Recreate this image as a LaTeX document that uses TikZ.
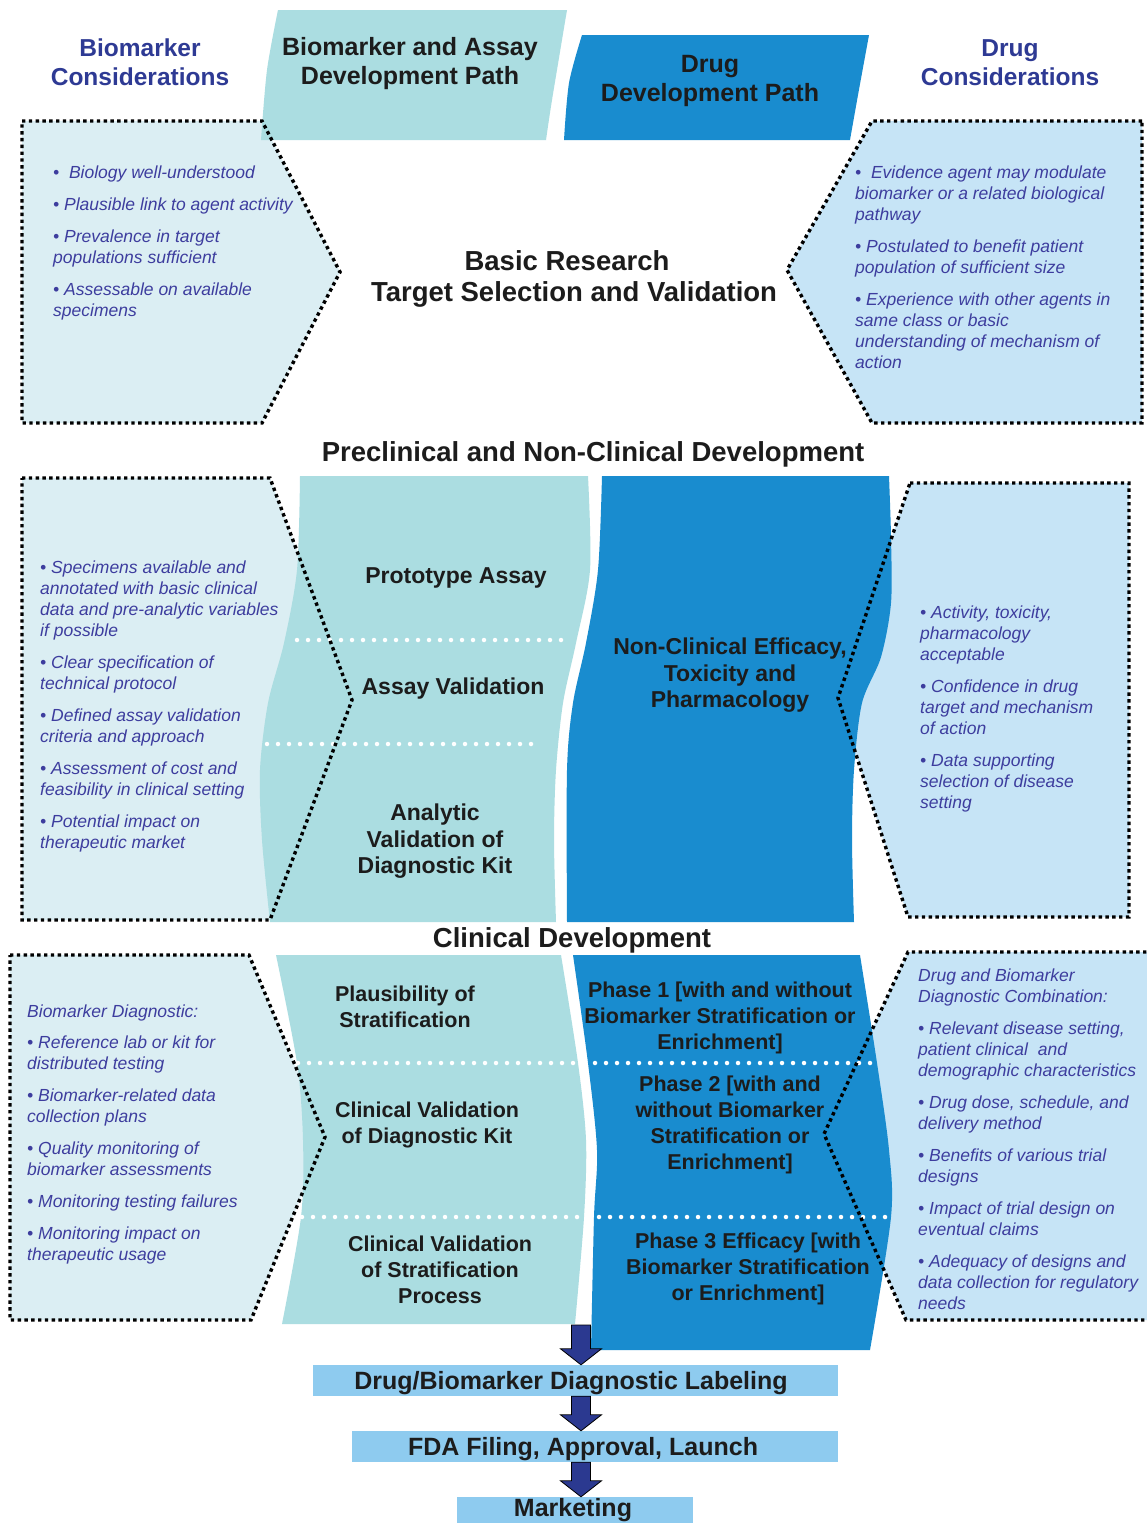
\documentclass[tikz,border=0pt]{standalone}
\usepackage{fontspec}
\setmainfont{Liberation Sans}
\usetikzlibrary{calc}
\definecolor{colTeal}{HTML}{ABDDE1}
\definecolor{colBlue}{HTML}{198CCF}
\definecolor{fillL}{HTML}{DBEEF3}
\definecolor{fillR}{HTML}{C6E4F6}
\definecolor{fillLab}{HTML}{8ECBEF}
\definecolor{bulCol}{HTML}{3D3D9E}
\definecolor{headCol}{HTML}{2E3A94}
\definecolor{arrCol}{HTML}{2B3990}
\definecolor{darkTxt}{HTML}{1C1C1C}
\begin{document}
\begin{tikzpicture}[x=1pt,y=-1pt,
  bullets/.style={font=\fontsize{17.5}{21}\selectfont\itshape, text=bulCol, anchor=north west, align=left, inner sep=0pt, yshift=-2pt},
  colA/.style={font=\fontsize{23}{26.5}\selectfont\bfseries, text=darkTxt, align=center, inner sep=0pt, yshift=-2.5pt},
  colB/.style={font=\fontsize{21.5}{26}\selectfont\bfseries, text=darkTxt, align=center, inner sep=0pt, yshift=-2.5pt},
  header/.style={font=\fontsize{24.5}{29}\selectfont\bfseries, text=headCol, align=center, inner sep=0pt, yshift=-1.5pt},
  pathtitle/.style={font=\fontsize{25}{29}\selectfont\bfseries, text=darkTxt, align=center, inner sep=0pt, yshift=-2.5pt},
  stage/.style={font=\fontsize{27.5}{31}\selectfont\bfseries, text=darkTxt, align=center, inner sep=0pt, yshift=-2.5pt},
  labbox/.style={fill=fillLab, inner sep=0pt},
  labtext/.style={font=\fontsize{25}{29}\selectfont\bfseries, text=darkTxt, inner sep=0pt, yshift=-2.5pt},
  boxline/.style={draw=black, line width=3.4pt, dash pattern=on 3.4pt off 3.4pt},
  sepline/.style={draw=white, line width=4.5pt, line cap=round, dash pattern=on 0pt off 11pt},
  blockarrow/.style={fill=arrCol, draw=black, line width=0.8pt, line join=miter}
]
\clip (0,0) rectangle (1147,1523);
\fill[white] (0,0) rectangle (1147,1523);

% ---- consideration panels (fills) ----
\fill[fillL] (22,121) -- (262,121) -- (340,272) -- (262,423) -- (22,423) -- cycle;
\fill[fillR] (1142,121) -- (872,121) -- (787,270) -- (872,423) -- (1142,423) -- cycle;
\fill[fillL] (22,478) -- (270,478) -- (352,700) -- (270,920) -- (22,920) -- cycle;
\fill[fillR] (910,483) -- (1129,483) -- (1129,917) -- (908,917) -- (838,698) -- cycle;
\fill[fillL] (10,955) -- (249,955) -- (325,1137) -- (251,1320) -- (10,1320) -- cycle;
\fill[fillR] (908,952) -- (1160,952) -- (1160,1320) -- (906,1320) -- (824,1134) -- cycle;

% ---- path banners ----
\fill[colTeal] (278,10) -- (567,10)
  -- plot[smooth] coordinates {(567,10) (552,100) (546,140)}
  -- (261,140)
  -- plot[smooth] coordinates {(261,140) (267,70) (278,10)} -- cycle;
\fill[colBlue] (582,35) -- (869,35)
  -- plot[smooth] coordinates {(869,35) (858,95) (850,140)}
  -- (564,140)
  -- plot[smooth] coordinates {(564,140) (569,83) (582,35)} -- cycle;

% ---- preclinical columns ----
\fill[colTeal] (300,476) -- (588,476)
  -- plot[smooth] coordinates {(588,476) (590,570) (576,643) (563,703) (556,770) (554,840) (556,922)}
  -- (270,922)
  -- plot[smooth] coordinates {(270,922) (262,840) (260,770) (268,703) (284,643) (297,570) (300,476)} -- cycle;
\fill[colBlue] (602,476) -- (889,476)
  -- plot[smooth] coordinates {(889,476) (891,537) (891,603) (881,657) (862,703) (854,770) (852,840) (854,922)}
  -- (567,922)
  -- plot[smooth] coordinates {(567,922) (567,770) (573,703) (586,643) (598,570) (602,476)} -- cycle;

% ---- clinical columns ----
\fill[colTeal] (276,955) -- (561,955)
  -- plot[smooth] coordinates {(561,955) (578,1063) (586,1140) (584,1217) (575,1324)}
  -- (282,1324)
  -- plot[smooth] coordinates {(282,1324) (301,1217) (303,1140) (297,1063) (276,955)} -- cycle;
\fill[colBlue] (573,955) -- (860,955)
  -- plot[smooth] coordinates {(860,955) (877,1063) (889,1150) (891,1217) (870,1350)}
  -- (591,1350)
  -- plot[smooth] coordinates {(591,1350) (594,1217) (597,1150) (588,1063) (573,955)} -- cycle;

% ---- stage separators ----
\draw[sepline] (297,640) -- (570,640);
\draw[sepline] (267,744) -- (541,744);
\draw[sepline] (298,1063) -- (877,1063);
\draw[sepline] (302,1217) -- (891,1217);

% ---- panel outlines ----
\draw[boxline] (22,121) -- (262,121) -- (340,272) -- (262,423) -- (22,423) -- cycle;
\draw[boxline] (1142,121) -- (872,121) -- (787,270) -- (872,423) -- (1142,423) -- cycle;
\draw[boxline] (22,478) -- (270,478) -- (352,700) -- (270,920) -- (22,920) -- cycle;
\draw[boxline] (910,483) -- (1129,483) -- (1129,917) -- (908,917) -- (838,698) -- cycle;
\draw[boxline] (10,955) -- (249,955) -- (325,1137) -- (251,1320) -- (10,1320) -- cycle;
\draw[boxline] (1160,952) -- (908,952) -- (824,1134) -- (906,1320) -- (1160,1320);

% ---- headings ----
\node[header] (bmcons) at (140,61) {Biomarker\\Considerations};
\node[header] (drcons) at (1010,61) {Drug\\Considerations};
\node[pathtitle] (bmpath) at (410,61) {Biomarker and Assay\\Development Path};
\node[pathtitle] (drpath) at (710,78) {Drug\\Development Path};
\node[stage] (basic) at (574,276) {Basic Research\hspace*{14pt}\\Target Selection and Validation};
\node[stage] (precl) at (593,452) {Preclinical and Non-Clinical Development};
\node[stage] (clin) at (572,938) {Clinical Development};

% ---- consideration texts ----
\node[bullets] (c1l) at (53,164) {%
•\ \ Biology well-understood\\[11pt]
• Plausible link to agent activity\\[11pt]
• Prevalence in target\\populations sufficient\\[11pt]
• Assessable on available\\specimens};
\node[bullets] (c1r) at (855,164) {%
•\ \ Evidence agent may modulate\\biomarker or a related biological\\pathway\\[11pt]
• Postulated to benefit patient\\population of sufficient size\\[11pt]
• Experience with other agents in\\same class or basic\\understanding of mechanism of\\action};
\node[bullets] (c2l) at (40,559) {%
• Specimens available and\\annotated with basic clinical\\data and pre-analytic variables\\if possible\\[11pt]
• Clear specification of\\technical protocol\\[11pt]
• Defined assay validation\\criteria and approach\\[11pt]
• Assessment of cost and\\feasibility in clinical setting\\[11pt]
• Potential impact on\\therapeutic market};
\node[bullets] (c2r) at (920,604) {%
• Activity, toxicity,\\pharmacology\\acceptable\\[11pt]
• Confidence in drug\\target and mechanism\\of action\\[11pt]
• Data supporting\\selection of disease\\setting};
\node[bullets] (c3l) at (27,1003) {%
Biomarker Diagnostic:\\[10pt]
• Reference lab or kit for\\distributed testing\\[11pt]
• Biomarker-related data\\collection plans\\[11pt]
• Quality monitoring of\\biomarker assessments\\[11pt]
• Monitoring testing failures\\[11pt]
• Monitoring impact on\\therapeutic usage};
\node[bullets] (c3r) at (918,967) {%
Drug and Biomarker\\Diagnostic Combination:\\[11pt]
• Relevant disease setting,\\patient clinical\ \ and\\demographic characteristics\\[11pt]
• Drug dose, schedule, and\\delivery method\\[11pt]
• Benefits of various trial\\designs\\[11pt]
• Impact of trial design on\\eventual claims\\[11pt]
• Adequacy of designs and\\data collection for regulatory\\needs};

% ---- stage texts ----
\node[colA] (proto) at (456,575) {Prototype Assay};
\node[colA] (assayval) at (453,686) {Assay Validation};
\node[colA] (analytic) at (435,839) {Analytic\\Validation of\\Diagnostic Kit};
\node[colA] (nonclin) at (730,673) {Non-Clinical Efficacy,\\Toxicity and\\Pharmacology};
\node[colB] (plaus) at (405,1004) {Plausibility of\\Stratification};
\node[colB] (clinkit) at (427,1122) {Clinical Validation\\of Diagnostic Kit};
\node[colB] (clinstrat) at (440,1267) {Clinical Validation\\of Stratification\\Process};
\node[colB] (ph1) at (720,1015) {Phase 1 [with and without\\Biomarker Stratification or\\Enrichment]};
\node[colB] (ph2) at (730,1122) {Phase 2 [with and\\without Biomarker\\Stratification or\\Enrichment]};
\node[colB] (ph3) at (748,1266) {Phase 3 Efficacy [with\\Biomarker Stratification\\or Enrichment]};

% ---- final steps ----
\coordinate (colbot) at (581,1325);
\node[labbox, minimum width=525pt, minimum height=31pt] (lab) at (575.5,1380.5) {};
\node[labtext] (labt) at (571,1381) {Drug/Biomarker Diagnostic Labeling};
\node[labbox, minimum width=486pt, minimum height=31pt] (fda) at (595,1446.5) {};
\node[labtext] (fdat) at (583,1447) {FDA Filing, Approval, Launch};
\node[labbox, minimum width=236pt, minimum height=34pt] (mkt) at (575,1514) {};
\node[labtext] (mktt) at (573,1507.5) {Marketing};

\newcommand{\stepArrow}[2]{%
  \draw[blockarrow] let \p1=(#1), \p2=(#2) in
    (581pt-9.5pt,\y1) -- (581pt+9.5pt,\y1) -- (581pt+9.5pt,\y2+16pt) -- (581pt+20.5pt,\y2+16pt)
    -- (581pt,\y2) -- (581pt-20.5pt,\y2+16pt) -- (581pt-9.5pt,\y2+16pt) -- cycle;}
\stepArrow{colbot}{lab.north}
\stepArrow{lab.south}{fda.north}
\stepArrow{fda.south}{mkt.north}
\end{tikzpicture}
\end{document}
